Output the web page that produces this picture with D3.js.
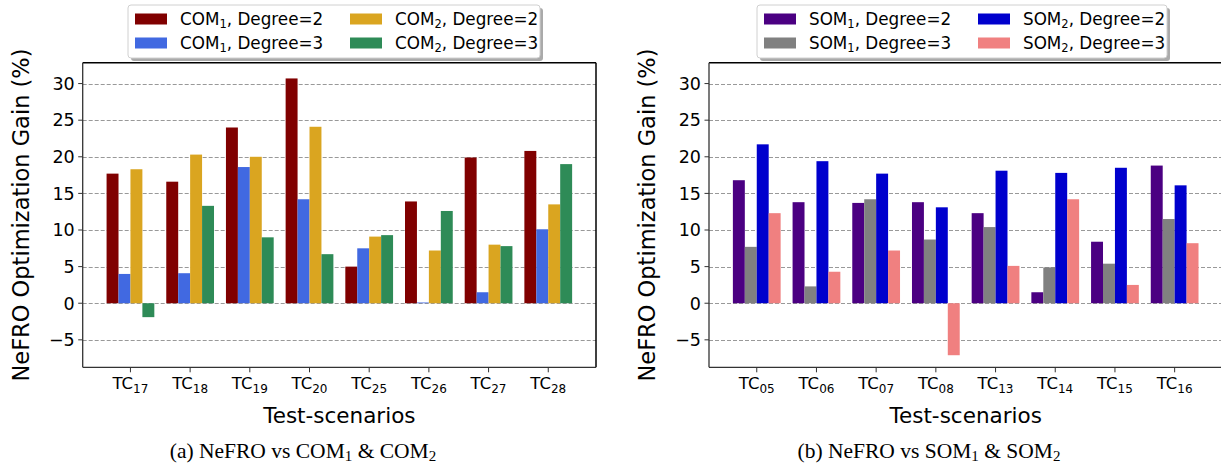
<!DOCTYPE html>
<meta charset="utf-8">
<style>
body { margin: 0; background: #fff; }
svg { display: block; font-family: "DejaVu Sans", sans-serif; }
.grid line { stroke: #999; stroke-dasharray: 4,2; stroke-width: 1; }
.caption { font-family: "Liberation Serif", "Times New Roman", serif; }
</style>
<body>
<div id="chart"></div>
</body>
<script src="https://d3js.org/d3.v7.min.js"></script>
<script>

var width = 1221,
    height = 464;

// test scenarios per panel
var leftCats = ["17", "18", "19", "20", "25", "26", "27", "28"];
var rightCats = ["05", "06", "07", "08", "13", "14", "15", "16"];

// left panel series (NeFRO vs COM1 & COM2)
var com1Deg2 = [17.7, 16.6, 24.0, 30.7, 5.0, 13.9, 19.9, 20.8];
var com1Deg3 = [4.0, 4.1, 18.6, 14.2, 7.5, 0.1, 1.5, 10.1];
var com2Deg2 = [18.3, 20.3, 20.0, 24.1, 9.1, 7.2, 8.0, 13.5];
var com2Deg3 = [-1.9, 13.3, 9.0, 6.7, 9.3, 12.6, 7.8, 19.0];

// right panel series (NeFRO vs SOM1 & SOM2)
var som1Deg2 = [16.8, 13.8, 13.7, 13.8, 12.3, 1.5, 8.4, 18.8];
var som1Deg3 = [7.7, 2.3, 14.2, 8.7, 10.4, 4.9, 5.4, 11.5];
var som2Deg2 = [21.7, 19.4, 17.7, 13.1, 18.1, 17.8, 18.5, 16.1];
var som2Deg3 = [12.3, 4.3, 7.2, -7.1, 5.1, 14.2, 2.5, 8.2];

var yTicks = [-5, 0, 5, 10, 15, 20, 25, 30];

var svg = d3.select("#chart").append("svg")
    .attr("width", width)
    .attr("height", height);

var panels = [
  {
    x0: 82.7, x1: 596, cats: leftCats, base: "COM",
    series: [com1Deg2, com1Deg3, com2Deg2, com2Deg3],
    colors: ["#800000", "#4169e1", "#daa520", "#2e8b57"],
    legend: { x: 128, w: 412, col2: 215 },
    ylabelX: 21, caption: "(a) NeFRO vs ", capX: 303
  },
  {
    x0: 709, x1: 1222.4, cats: rightCats, base: "SOM",
    series: [som1Deg2, som1Deg3, som2Deg2, som2Deg3],
    colors: ["#4b0082", "#808080", "#0000cd", "#f08080"],
    legend: { x: 757, w: 410, col2: 214 },
    ylabelX: 647, caption: "(b) NeFRO vs ", capX: 929
  }
];

var y0 = 62.7, y1 = 367.3;

var y = d3.scaleLinear()
    .domain([-8.75, 32.85])
    .range([y1, y0]);

// which model / degree each series stands for
var seriesKeys = [[1, 2], [1, 3], [2, 2], [2, 3]];

panels.forEach(function(p) {
  var x = d3.scaleLinear()
      .domain([-0.8, 7.8])
      .range([p.x0, p.x1]);
  var barW = x(0.2) - x(0);

  var g = svg.append("g");

  // dashed grid
  g.append("g").attr("class", "grid")
    .selectAll("line")
    .data(yTicks)
    .enter().append("line")
    .attr("x1", p.x0).attr("x2", p.x1)
    .attr("y1", function(d) { return Math.round(y(d)) + 0.5; })
    .attr("y2", function(d) { return Math.round(y(d)) + 0.5; });

  // bars
  p.series.forEach(function(vals, j) {
    g.append("g")
      .selectAll("rect")
      .data(vals)
      .enter().append("rect")
      .attr("x", function(d, i) { return x(i + (j - 1.5) * 0.2) - barW / 2; })
      .attr("width", barW)
      .attr("y", function(d) { return y(Math.max(d, 0)); })
      .attr("height", function(d) { return Math.abs(y(d) - y(0)); })
      .attr("fill", p.colors[j]);
  });

  // frame
  g.append("line").attr("x1", p.x0).attr("x2", p.x1).attr("y1", y0).attr("y2", y0)
    .attr("stroke", "#000").attr("stroke-width", 1.5);
  g.append("line").attr("x1", p.x1).attr("x2", p.x1).attr("y1", y0).attr("y2", y1)
    .attr("stroke", "#000").attr("stroke-width", 1.5);
  g.append("line").attr("x1", p.x0).attr("x2", p.x0).attr("y1", y0).attr("y2", y1)
    .attr("stroke", "#333").attr("stroke-width", 1.3);
  g.append("line").attr("x1", p.x0).attr("x2", p.x1).attr("y1", y1).attr("y2", y1)
    .attr("stroke", "#333").attr("stroke-width", 1.3);

  // y axis ticks
  var yt = g.append("g").selectAll("g")
    .data(yTicks)
    .enter().append("g")
    .attr("transform", function(d) { return "translate(0," + y(d) + ")"; });
  yt.append("line")
    .attr("x1", p.x0 - 4.5).attr("x2", p.x0)
    .attr("stroke", "#333").attr("stroke-width", 1);
  yt.append("text")
    .attr("x", p.x0 - 8)
    .attr("dy", "0.36em")
    .attr("text-anchor", "end")
    .attr("font-size", 17.5)
    .text(function(d) { return d < 0 ? "\u2212" + Math.abs(d) : d; });

  // x axis ticks
  var xt = g.append("g").selectAll("g")
    .data(p.cats)
    .enter().append("g")
    .attr("transform", function(d, i) { return "translate(" + x(i) + "," + y1 + ")"; });
  xt.append("line")
    .attr("y1", 0).attr("y2", 5)
    .attr("stroke", "#333").attr("stroke-width", 1);
  var tl = xt.append("text")
    .attr("y", 22)
    .attr("text-anchor", "middle")
    .attr("font-size", 16.5);
  tl.append("tspan").text("TC");
  tl.append("tspan").attr("font-size", 12).attr("dy", 3.5).text(function(d) { return d; });

  // axis titles
  svg.append("text")
    .attr("transform", "translate(" + p.ylabelX + "," + ((y0 + y1) / 2) + ") rotate(-90)")
    .attr("text-anchor", "middle")
    .attr("dy", "0.35em")
    .attr("font-size", 22.5)
    .text("NeFRO Optimization Gain (%)");

  svg.append("text")
    .attr("x", (p.x0 + p.x1) / 2)
    .attr("y", 423)
    .attr("text-anchor", "middle")
    .attr("font-size", 21.5)
    .text("Test-scenarios");

  // legend
  var L = p.legend, ly = 5, lh = 53;
  var lg = svg.append("g");
  lg.append("rect")
    .attr("x", L.x + 3).attr("y", ly + 3)
    .attr("width", L.w).attr("height", lh)
    .attr("rx", 3)
    .attr("fill", "#aaa");
  lg.append("rect")
    .attr("x", L.x).attr("y", ly)
    .attr("width", L.w).attr("height", lh)
    .attr("rx", 3)
    .attr("fill", "#fff")
    .attr("stroke", "#d0d0d0");

  // column order: matplotlib fills columns top to bottom
  seriesKeys.forEach(function(k, j) {
    var col = Math.floor(j / 2), row = j % 2;
    var ex = L.x + 7 + col * L.col2;
    var ey = ly + 14 + row * 24;
    lg.append("rect")
      .attr("x", ex).attr("y", ey - 5.5)
      .attr("width", 32).attr("height", 11)
      .attr("fill", p.colors[j]);
    var t = lg.append("text")
      .attr("x", ex + 45)
      .attr("y", ey)
      .attr("dy", "0.35em")
      .attr("font-size", 16.8);
    t.append("tspan").text(p.base);
    t.append("tspan").attr("font-size", 11.5).attr("dy", 3.5).text(k[0]);
    t.append("tspan").attr("dy", -3.5).text(", Degree=" + k[1]);
  });

  // caption
  var c = svg.append("text")
    .attr("class", "caption")
    .attr("x", p.capX)
    .attr("y", 458)
    .attr("text-anchor", "middle")
    .attr("font-size", 21.5);
  c.append("tspan").text(p.caption + p.base);
  c.append("tspan").attr("font-size", 15).attr("dy", 3).text("1");
  c.append("tspan").attr("dy", -3).text(" & " + p.base);
  c.append("tspan").attr("font-size", 15).attr("dy", 3).text("2");
});

</script>
